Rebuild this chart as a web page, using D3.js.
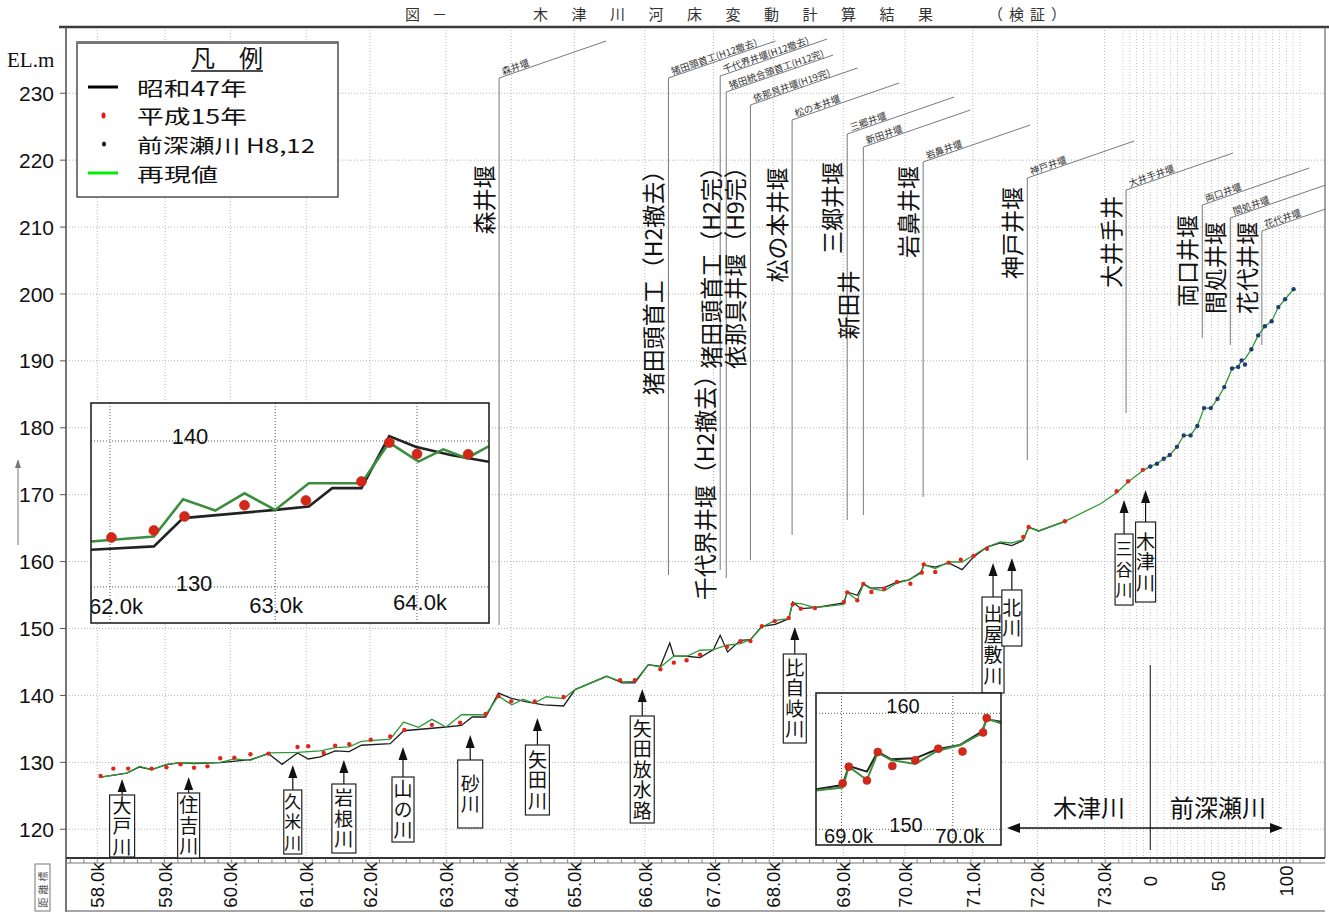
<!DOCTYPE html>
<html><head><meta charset="utf-8">
<script src="https://cdn.jsdelivr.net/npm/d3@7"></script>
<style>
body{margin:0;background:#fff}
svg{display:block}
text{font-family:"Liberation Sans",Arial,sans-serif}
.jp{font-family:"Noto Sans CJK JP","Noto Sans CJK SC",sans-serif}
.ser{font-family:"Liberation Serif","DejaVu Serif",serif}
.vert{writing-mode:vertical-rl;text-orientation:upright}
</style>
</head><body>
<svg id="c" width="1329" height="913"></svg>
<script>
// ---------------- DATA ----------------
const yTicks = [120,130,140,150,160,170,180,190,200,210,220,230];
const kizuTickKm = [58.00,59.01,59.98,61.11,62.06,63.19,64.16,65.10,66.15,67.17,68.06,69.10,70.02,71.03,71.99,72.99];
const kizuTickLabels = ["58.0k","59.0k","60.0k","61.0k","62.0k","63.0k","64.0k","65.0k","66.0k","67.0k","68.0k","69.0k","70.0k","71.0k","72.0k","73.0k"];
const maeTickVals = [0,50,100];
const maeTickLabels = ["0","50","100"];

// 昭和47年 (black line) — Kizu river, distance (km) / elevation (m)
const s47Km = [58.05,58.44,58.63,58.81,59.03,59.24,59.44,59.83,60.28,60.55,60.75,60.98,61.14,61.32,61.54,61.75,61.93,62.36,62.56,63.19,63.42,63.58,63.78,63.97,64.15,64.39,64.64,64.94,65.11,65.58,65.81,66.00,66.20,66.38,66.52,66.58,66.77,66.97,67.17,67.27,67.38,67.57,67.72,67.89,68.09,68.29,68.35,68.47,68.68,69.11,69.16,69.31,69.40,69.51,69.71,69.89,70.08,70.26,70.30,70.47,70.67,70.87,71.04,71.24,71.44,71.61,71.78,71.86,72.01,72.40];
const s47El = [127.8,128.4,129.3,128.9,129.65,129.95,129.8,129.95,130.4,131.3,129.7,131.4,130.5,130.8,131.7,131.6,132.55,132.78,134.72,135.28,135.51,136.77,136.77,140.34,139.61,139.04,138.6,138.42,140.87,142.86,141.86,141.86,144.6,144.35,147.84,145.85,145.85,145.65,146.85,148.99,146.5,148.24,148.34,150.33,150.62,151.47,153.96,152.97,153.12,153.82,155.46,154.97,156.69,156.03,156.12,156.9,157.27,158.42,159.48,159.19,159.79,158.8,160.69,162.18,162.78,162.38,163.18,165.17,164.58,166.02];

// 平成15年 (red dots)
const h15Km = [58.05,58.24,58.46,58.81,59.03,59.24,59.44,59.64,59.83,60.04,60.28,60.55,60.98,61.14,61.37,61.54,61.75,62.07,62.36,62.57,62.98,63.40,63.78,63.97,64.16,64.51,64.94,65.78,66.00,66.38,66.58,66.77,66.97,67.37,67.57,67.72,67.89,68.08,68.29,68.35,68.47,68.68,69.11,69.16,69.31,69.40,69.52,69.71,69.90,70.10,70.27,70.30,70.47,70.67,70.85,71.04,71.24,71.78,71.86,72.40,73.17,73.34,73.56];
const h15El = [127.95,129.06,129.06,129.06,129.26,129.7,129.2,129.4,130.6,130.7,131.2,131.3,132.3,132.4,131.4,132.5,132.7,133.39,133.87,134.83,135.6,135.92,137.22,139.89,139.11,139.09,139.77,142.26,142.26,143.9,144.9,145.25,146.1,147.24,148.09,148.14,150.33,151.1,151.57,153.61,152.97,153.07,153.96,155.4,154.21,156.66,155.46,155.96,156.95,156.7,158.35,159.59,158.45,159.84,160.29,160.84,161.93,163.68,165.17,166.02,170.52,172.0,173.71];

// 再現値 (green line) — Kizu river
const simKm = [58.05,58.44,58.63,58.81,59.03,59.24,59.44,59.83,60.04,60.28,60.55,60.98,61.32,61.54,61.75,61.93,62.36,62.56,62.78,62.98,63.19,63.42,63.78,63.97,64.17,64.34,64.50,64.68,64.94,65.11,65.58,65.81,66.00,66.20,66.38,66.58,66.77,66.97,67.17,67.37,67.57,67.72,67.89,68.09,68.29,68.35,68.47,68.68,69.11,69.16,69.31,69.40,69.51,69.71,69.89,70.08,70.26,70.30,70.47,70.67,70.87,71.04,71.24,71.44,71.61,71.78,71.86,72.01,72.40,72.93,73.17,73.34,73.56];
const simEl = [127.8,128.4,129.4,128.9,129.7,129.95,129.9,130.0,130.5,130.3,131.4,131.5,131.7,132.2,132.3,133.12,133.46,136.01,135.24,136.42,135.28,137.11,137.11,139.89,138.59,139.43,138.82,139.8,139.52,140.87,142.86,142.01,142.11,144.6,144.25,145.85,145.85,146.75,146.85,147.5,147.74,148.34,150.23,151.22,151.47,153.81,153.71,153.12,153.6,155.4,154.25,156.6,155.97,155.63,156.75,157.27,158.27,159.56,158.95,159.94,159.94,160.94,162.18,162.93,162.78,163.28,165.07,164.58,166.02,168.65,170.3,171.9,173.6];

// 前深瀬川 (distance from confluence, section units)
const maeDist = [0,4.9,9.9,14.3,19.6,24.6,29.6,34.6,39.5,44.5,49.4,54.4,60.1,64.6,67.1,69.6,74.3,79.3,84.2,89.2,94.1,99.1,105.3];
const maeObs  = [174.22,174.62,175.38,175.93,177.15,178.86,178.86,180.27,182.94,182.94,184.32,186.08,188.86,189.1,190.07,189.46,191.73,193.81,195.17,195.93,198.04,199.21,200.72];
const maeSim  = [174.22,174.62,175.38,175.93,177.15,178.86,178.86,180.27,182.94,182.94,184.32,186.08,188.86,189.1,190.07,190.3,191.73,193.81,195.17,195.93,198.04,199.21,200.72];

// Weirs
const weirBig   = ["森井堰","猪田頭首工（H2撤去）","千代界井堰（H2撤去）","猪田頭首工（H2完）","依那具井堰（H9完）","松の本井堰","三郷井堰","新田井","岩鼻井堰","神戸井堰","大井手井","両口井堰","間処井堰","花代井堰"];
const weirSmall = ["森井堰","猪田頭首工(H12撤去)","千代界井堰(H12撤去)","猪田統合頭首工(H12完)","依那具井堰(H19完)","松の本井堰","三郷井堰","新田井堰","岩鼻井堰","神戸井堰","大井手井堰","両口井堰","間処井堰","花代井堰"];
const weirRiver = ["K","K","K","K","K","K","K","K","K","K","K","M","M","M"];
const weirPos   = [63.98,66.50,67.27,67.36,67.72,68.34,69.16,69.40,70.29,71.84,73.31,38.2,58.8,82.0];

// Tributaries
const tribNames = ["大戸川","住吉川","久米川","岩根川","山の川","砂川","矢田川","矢田放水路","比自岐川","出屋敷川","北川","三谷川","木津川"];
const tribKm    = [58.37,59.36,60.91,61.67,62.55,63.55,64.55,66.11,68.38,71.33,71.61,73.28,73.60];

// ---------------- LAYOUT (annotation geometry, px) ----------------
const weirTop    = [78,78,76,92,105,120,134,147,162,178,190,205,218,231];
const weirBottom = [625,575,570,578,560,535,520,515,497,460,413,338,345,345];
const weirBigCy  = [200,277,482,262,262,225,208,305,212,233,242,261,268,268];
const tribTip    = [779,777,765,760,747,735,718,689,627,563,558,500,490];
const tribTop    = [795,793,790,784,777,760,745,716,654,597,590,534,522];
const tribBot    = [857,858,854,853,842,828,815,823,743,693,646,605,602];
const tribW      = [25,22,18,24,22,25,24,24,23,22,20,18,20];

// ---------------- SCALES ----------------
const PL=66, PR=1325, PT=27, PB=858;
const svg = d3.select("#c");
const xK = d3.scaleLinear().domain([57.55,76.27]).range([PL+1,PR]);
const xM = d3.scaleLinear().domain([0,100]).range([xK(73.67), xK(75.695)]);
const y  = d3.scaleLinear().domain([115.7,239.9]).range([PB,PT]);

const kizuS47 = s47Km.map((k,i)=>({k,v:s47El[i]}));
const kizuH15 = h15Km.map((k,i)=>({k,v:h15El[i]}));
const kizuSim = simKm.map((k,i)=>({k,v:simEl[i]}));
const maeO = maeDist.map((m,i)=>({m,v:maeObs[i]}));
const maeS = maeDist.map((m,i)=>({m,v:maeSim[i]}));

// ---------------- TITLE ----------------
svg.append("text").attr("x",405).attr("y",20).attr("class","jp").attr("font-size",15).attr("fill","#333").attr("letter-spacing",12).text("図－");
svg.append("text").attr("x",533).attr("y",20).attr("class","jp").attr("font-size",15).attr("fill","#333").attr("letter-spacing",23.5).text("木津川河床変動計算結果");
svg.append("text").attr("x",988).attr("y",20).attr("class","jp").attr("font-size",15).attr("fill","#333").attr("letter-spacing",6).text("（検証）");

// ---------------- FRAME / GRID ----------------
svg.append("clipPath").attr("id","plotClip").append("rect").attr("x",PL).attr("y",PT).attr("width",PR-PL).attr("height",PB-PT);
const grid = svg.append("g").attr("clip-path","url(#plotClip)");
grid.selectAll(".hg").data(yTicks).join("line")
  .attr("x1",PL).attr("x2",PR).attr("y1",d=>y(d)).attr("y2",d=>y(d))
  .attr("stroke","#b5b5b5").attr("stroke-width",1).attr("stroke-dasharray","1,2");
grid.selectAll(".vg").data(kizuTickKm).join("line")
  .attr("x1",d=>xK(d)).attr("x2",d=>xK(d)).attr("y1",PT).attr("y2",PB)
  .attr("stroke","#b5b5b5").attr("stroke-width",1).attr("stroke-dasharray","1,2");
grid.selectAll(".vm").data(d3.range(-20,111,5)).join("line")
  .attr("x1",d=>xM(d)).attr("x2",d=>xM(d)).attr("y1",PT).attr("y2",PB)
  .attr("stroke","#c4c4c4").attr("stroke-width",1).attr("stroke-dasharray","1,2");

// frame
svg.append("line").attr("x1",59).attr("x2",1329).attr("y1",PT).attr("y2",PT).attr("stroke","#3a3a3a").attr("stroke-width",2.5);
svg.append("line").attr("x1",PL).attr("x2",PL).attr("y1",PT).attr("y2",912).attr("stroke","#555").attr("stroke-width",1.6);
svg.append("line").attr("x1",PR).attr("x2",PR).attr("y1",PT).attr("y2",PB).attr("stroke","#666").attr("stroke-width",1.2);
svg.append("line").attr("x1",PL).attr("x2",PR).attr("y1",PB).attr("y2",PB).attr("stroke","#333").attr("stroke-width",1.8);
svg.append("line").attr("x1",PL).attr("x2",PR).attr("y1",PB+5).attr("y2",PB+5).attr("stroke","#777").attr("stroke-width",1);
svg.append("line").attr("x1",PL).attr("x2",PR).attr("y1",911).attr("y2",911).attr("stroke","#888").attr("stroke-width",1.5);
// minor ticks
const minorK = d3.range(57.6,73.6,0.2);
svg.selectAll(".mt").data(minorK).join("line").attr("x1",d=>xK(d)).attr("x2",d=>xK(d)).attr("y1",PB).attr("y2",PB+5).attr("stroke","#666").attr("stroke-width",0.8);
svg.selectAll(".mtm").data(d3.range(0,111,5)).join("line").attr("x1",d=>xM(d)).attr("x2",d=>xM(d)).attr("y1",PB).attr("y2",PB+5).attr("stroke","#666").attr("stroke-width",0.8);

// y axis
svg.selectAll(".yt").data(yTicks).join("line").attr("x1",60).attr("x2",PL).attr("y1",d=>y(d)).attr("y2",d=>y(d)).attr("stroke","#555");
svg.selectAll(".yl").data(yTicks).join("text").attr("x",54).attr("y",d=>y(d)).attr("dy","0.36em")
  .attr("text-anchor","end").attr("font-size",21).attr("fill","#111").text(d=>d);
svg.append("text").attr("class","ser").attr("x",7).attr("y",67).attr("font-size",21).attr("fill","#111").text("EL.m");
// small arrow at left
svg.append("line").attr("x1",18).attr("x2",18).attr("y1",545).attr("y2",462).attr("stroke","#777").attr("stroke-width",1);
svg.append("path").attr("d","M18,459 L15,468 L21,468 Z").attr("fill","#777");

// x tick labels
svg.selectAll(".xl").data(kizuTickKm).join("text")
  .attr("transform",d=>`translate(${xK(d)},885) rotate(-90)`).attr("text-anchor","middle").attr("dy","0.36em")
  .attr("font-size",18.5).attr("fill","#111").text((d,i)=>kizuTickLabels[i]);
svg.selectAll(".xm").data(maeTickVals).join("text")
  .attr("transform",d=>`translate(${xM(d)},881) rotate(-90)`).attr("text-anchor","middle").attr("dy","0.36em")
  .attr("font-size",18.5).attr("fill","#111").text((d,i)=>maeTickLabels[i]);
// 距離標 box
svg.append("rect").attr("x",35).attr("y",864).attr("width",15).attr("height",47).attr("fill","none").attr("stroke","#777");
svg.append("text").attr("class","jp").attr("transform","translate(43,888) rotate(-90)")
  .attr("text-anchor","middle").attr("dy","0.35em").attr("font-size",10).attr("letter-spacing",3).attr("fill","#555").text("距離標");

// ---------------- WEIR ANNOTATIONS ----------------
const wg = svg.append("g").attr("clip-path","url(#plotClip)");
const weirs = weirBig.map((b,i)=>({big:b, small:weirSmall[i], x: weirRiver[i]==="K"?xK(weirPos[i]):xM(weirPos[i]),
  top:weirTop[i], bot:weirBottom[i], cy:weirBigCy[i]}));
weirs.forEach(w=>{
  wg.append("line").attr("x1",w.x).attr("x2",w.x).attr("y1",w.top).attr("y2",w.bot).attr("stroke","#6a6a6a").attr("stroke-width",0.9);
  wg.append("line").attr("x1",w.x).attr("x2",w.x+107).attr("y1",w.top).attr("y2",w.top-37).attr("stroke","#6a6a6a").attr("stroke-width",0.9);
  wg.append("text").attr("class","jp").attr("transform",`translate(${w.x+4},${w.top-3}) rotate(-19.1)`)
    .attr("font-size",9.5).attr("fill","#333").text(w.small);
  wg.append("text").attr("class","jp").attr("transform",`translate(${w.x-16},${w.cy}) rotate(-90)`)
    .attr("text-anchor","middle").attr("dominant-baseline","central").attr("font-size",23).attr("fill","#111").text(w.big);
});

// ---------------- MAIN SERIES ----------------
const lineK = d3.line().x(d=>xK(d.k)).y(d=>y(d.v));
const mainG = svg.append("g").attr("clip-path","url(#plotClip)");
mainG.append("path").datum(kizuS47).attr("d",lineK).attr("fill","none").attr("stroke","#1e1e1e").attr("stroke-width",1.3);
const simPts = kizuSim.map(d=>[xK(d.k),y(d.v)]).concat(maeS.map(d=>[xM(d.m),y(d.v)]));
mainG.append("path").datum(simPts).attr("d",d3.line()).attr("fill","none").attr("stroke","#2f9a35").attr("stroke-width",1.3);
mainG.selectAll(".rd").data(kizuH15).join("circle").attr("cx",d=>xK(d.k)).attr("cy",d=>y(d.v)).attr("r",2.2).attr("fill","#e0261b");
mainG.selectAll(".bd").data(maeO).join("circle").attr("cx",d=>xM(d.m)).attr("cy",d=>y(d.v)).attr("r",2.2).attr("fill","#1f3d70");

// separator and river-name arrow
svg.append("line").attr("x1",xM(0)).attr("x2",xM(0)).attr("y1",665).attr("y2",850).attr("stroke","#111").attr("stroke-width",1);
svg.append("line").attr("x1",1016).attr("x2",1274).attr("y1",828).attr("y2",828).attr("stroke","#111").attr("stroke-width",1.5);
svg.append("path").attr("d","M1007,828 L1020,823 L1020,833 Z").attr("fill","#111");
svg.append("path").attr("d","M1283,828 L1270,823 L1270,833 Z").attr("fill","#111");
svg.append("text").attr("class","jp").attr("x",1089).attr("y",817).attr("text-anchor","middle").attr("font-size",24).attr("fill","#111").text("木津川");
svg.append("text").attr("class","jp").attr("x",1218).attr("y",817).attr("text-anchor","middle").attr("font-size",24).attr("fill","#111").text("前深瀬川");

// ---------------- TRIBUTARY LABELS ----------------
tribNames.forEach((n,i)=>{
  const cx = xK(tribKm[i]);
  const g = svg.append("g");
  g.append("line").attr("x1",cx).attr("x2",cx).attr("y1",tribTop[i]).attr("y2",tribTip[i]+8).attr("stroke","#111").attr("stroke-width",1.2);
  g.append("path").attr("d",`M${cx},${tribTip[i]} L${cx-4.5},${tribTip[i]+13} L${cx+4.5},${tribTip[i]+13} Z`).attr("fill","#111");
  g.append("rect").attr("x",cx-tribW[i]/2).attr("y",tribTop[i]).attr("width",tribW[i]).attr("height",tribBot[i]-tribTop[i])
    .attr("fill","#fff").attr("stroke","#222").attr("stroke-width",1.2);
  const fs = tribW[i]<20?17:19, pitch = 20.5;
  g.append("text").attr("class","jp vert").attr("x",cx).attr("y",(tribTop[i]+tribBot[i])/2 + (pitch-fs)/2)
    .attr("text-anchor","middle").attr("font-size",fs).attr("letter-spacing",pitch-fs).attr("fill","#111").text(n);
});

// ---------------- INSETS ----------------
function inset(id, box, xs, ys, xt, yt, lw, r, labelSize){
  const g = svg.append("g");
  g.append("clipPath").attr("id",id).append("rect").attr("x",box[0]).attr("y",box[1]).attr("width",box[2]-box[0]).attr("height",box[3]-box[1]);
  g.append("rect").attr("x",box[0]).attr("y",box[1]).attr("width",box[2]-box[0]).attr("height",box[3]-box[1]).attr("fill","#fff");
  const c = g.append("g").attr("clip-path",`url(#${id})`);
  c.selectAll(".h").data(yt).join("line").attr("x1",box[0]).attr("x2",box[2]).attr("y1",d=>ys(d.v)).attr("y2",d=>ys(d.v))
    .attr("stroke","#555").attr("stroke-dasharray","1,2");
  c.selectAll(".v").data(xt).join("line").attr("x1",d=>xs(d.k)).attr("x2",d=>xs(d.k)).attr("y1",box[1]).attr("y2",box[3])
    .attr("stroke","#555").attr("stroke-dasharray","1,2");
  const ln = d3.line().x(d=>xs(d.k)).y(d=>ys(d.v));
  c.append("path").datum(kizuS47).attr("d",ln).attr("fill","none").attr("stroke","#222").attr("stroke-width",lw);
  c.append("path").datum(kizuSim).attr("d",ln).attr("fill","none").attr("stroke","#3b8e3e").attr("stroke-width",lw);
  c.selectAll(".d").data(kizuH15).join("circle").attr("cx",d=>xs(d.k)).attr("cy",d=>ys(d.v)).attr("r",r)
    .attr("fill","#d5261a").attr("stroke","#b0301a").attr("stroke-width",0.6);
  c.selectAll(".yl").data(yt).join("text").attr("x",d=>d.lx).attr("y",d=>ys(d.v)+d.dy).attr("text-anchor","middle")
    .attr("font-size",labelSize).attr("fill","#111").text(d=>d.v);
  c.selectAll(".xl").data(xt).join("text").attr("x",d=>xs(d.k)+d.dx).attr("y",d=>d.ly).attr("text-anchor","middle")
    .attr("font-size",labelSize).attr("fill","#111").text(d=>d.t);
  g.append("rect").attr("x",box[0]).attr("y",box[1]).attr("width",box[2]-box[0]).attr("height",box[3]-box[1])
    .attr("fill","none").attr("stroke","#222").attr("stroke-width",1.6);
}
inset("in1",[91,403,489,623],
  d3.scaleLinear().domain([62.06,64.16]).range([110,417]),
  d3.scaleLinear().domain([130,140]).range([587,441]),
  [{k:62.06,t:"62.0k",dx:6,ly:614},{k:63.19,t:"63.0k",dx:1,ly:613},{k:64.16,t:"64.0k",dx:3,ly:610}],
  [{v:140,lx:190,dy:3},{v:130,lx:194,dy:4}], 2.6, 5, 22);
inset("in2",[816,693,1001,845],
  d3.scaleLinear().domain([69.11,70.30]).range([842.7,986.7]),
  d3.scaleLinear().domain([150,160]).range([829.3,713.3]),
  [{k:69.10,t:"69.0k",dx:7,ly:843},{k:70.02,t:"70.0k",dx:7,ly:843}],
  [{v:160,lx:903,dy:0},{v:150,lx:906,dy:3}], 2, 4, 20);

// ---------------- LEGEND ----------------
const lg = svg.append("g");
lg.append("rect").attr("x",77).attr("y",42).attr("width",261).attr("height",155).attr("fill","#fff").attr("stroke","#333").attr("stroke-width",1.3);
lg.append("line").attr("x1",77).attr("x2",338).attr("y1",42.5).attr("y2",42.5).attr("stroke","#777").attr("stroke-width",3);
lg.append("text").attr("class","jp").attr("x",227).attr("y",67).attr("text-anchor","middle").attr("font-size",24).attr("fill","#111").text("凡　例");
lg.append("line").attr("x1",191).attr("x2",263).attr("y1",71).attr("y2",71).attr("stroke","#111").attr("stroke-width",1.5);
const legItems = ["昭和47年","平成15年","前深瀬川 H8,12","再現値"];
const legWidths = [110,110,178,81];
legItems.forEach((t,i)=>lg.append("text").attr("class","jp").attr("x",137).attr("y",87+i*28.7).attr("dominant-baseline","central")
  .attr("font-size",19.5).attr("textLength",legWidths[i]).attr("lengthAdjust","spacingAndGlyphs").attr("fill","#111").text(t));
lg.append("line").attr("x1",88).attr("x2",118).attr("y1",87).attr("y2",87).attr("stroke","#000").attr("stroke-width",3);
lg.append("ellipse").attr("cx",103.5).attr("cy",115.5).attr("rx",2).attr("ry",3).attr("fill","#f01010");
lg.append("ellipse").attr("cx",104).attr("cy",144).attr("rx",2).attr("ry",2.6).attr("fill","#111");
lg.append("line").attr("x1",88).attr("x2",118).attr("y1",173).attr("y2",173).attr("stroke","#00ee00").attr("stroke-width",3);
</script>
</body></html>
